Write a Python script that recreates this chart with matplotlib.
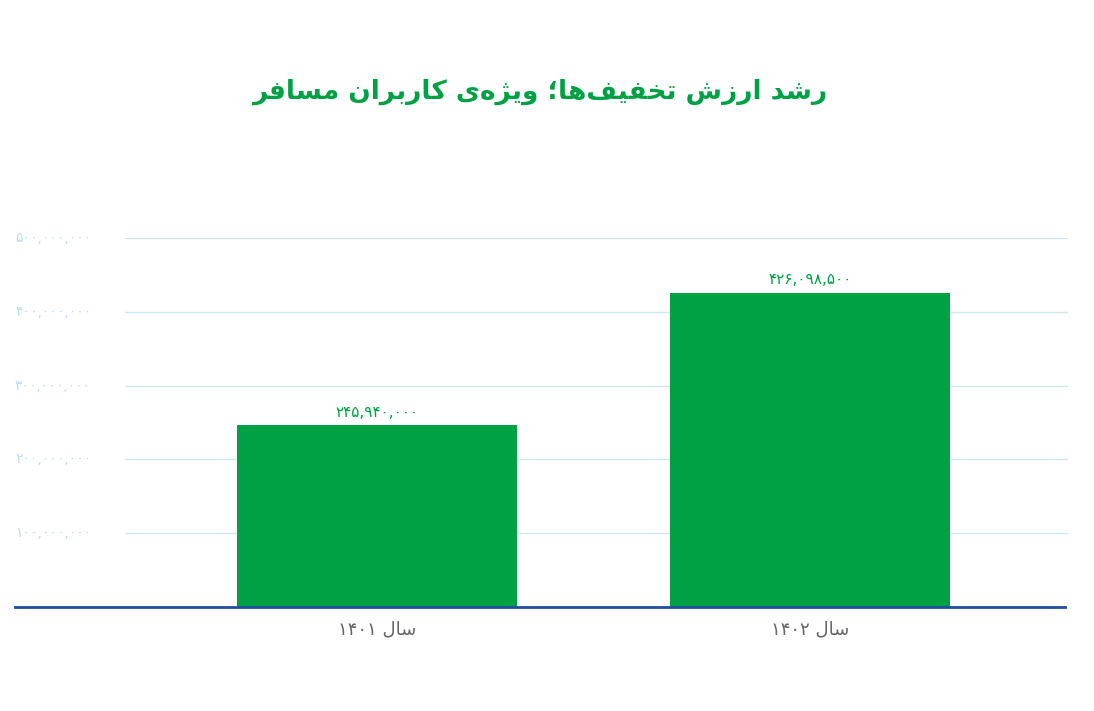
import matplotlib
matplotlib.use('Agg')
import matplotlib.pyplot as plt
from matplotlib.lines import Line2D

# simple Persian shaping (presentation forms, visual order)
FORMS = {
    'ا': ('\uFE8D', '\uFE8E', None, None),
    'ب': ('\uFE8F', '\uFE90', '\uFE91', '\uFE92'),
    'ت': ('\uFE95', '\uFE96', '\uFE97', '\uFE98'),
    'خ': ('\uFEA5', '\uFEA6', '\uFEA7', '\uFEA8'),
    'د': ('\uFEA9', '\uFEAA', None, None),
    'ر': ('\uFEAD', '\uFEAE', None, None),
    'ز': ('\uFEAF', '\uFEB0', None, None),
    'ژ': ('\uFB8A', '\uFB8B', None, None),
    'س': ('\uFEB1', '\uFEB2', '\uFEB3', '\uFEB4'),
    'ش': ('\uFEB5', '\uFEB6', '\uFEB7', '\uFEB8'),
    'ف': ('\uFED1', '\uFED2', '\uFED3', '\uFED4'),
    'ک': ('\uFB8E', '\uFB8F', '\uFB90', '\uFB91'),
    'ل': ('\uFEDD', '\uFEDE', '\uFEDF', '\uFEE0'),
    'م': ('\uFEE1', '\uFEE2', '\uFEE3', '\uFEE4'),
    'ن': ('\uFEE5', '\uFEE6', '\uFEE7', '\uFEE8'),
    'ه': ('\uFEE9', '\uFEEA', '\uFEEB', '\uFEEC'),
    'و': ('\uFEED', '\uFEEE', None, None),
    'ی': ('\uFBFC', '\uFBFD', '\uFBFE', '\uFBFF'),
}
DIGITS = '۰۱۲۳۴۵۶۷۸۹0123456789,'


def shape(text):
    out = []
    for i, ch in enumerate(text):
        if ch == '\u200c':
            continue
        if ch not in FORMS:
            out.append(ch)
            continue
        prev = text[i - 1] if i > 0 else ''
        nxt = text[i + 1] if i + 1 < len(text) else ''
        join_prev = prev in FORMS and FORMS[prev][2] is not None
        join_next = nxt in FORMS and FORMS[ch][2] is not None
        iso, fin, ini, med = FORMS[ch]
        if join_prev and join_next:
            out.append(med)
        elif join_prev:
            out.append(fin)
        elif join_next:
            out.append(ini)
        else:
            out.append(iso)
    # visual order: reverse, keeping digit runs LTR
    runs, cur = [], ''
    for ch in out:
        if cur and ((ch in DIGITS) != (cur[-1] in DIGITS)):
            runs.append(cur)
            cur = ''
        cur += ch
    if cur:
        runs.append(cur)
    return ''.join(r if r[0] in DIGITS else r[::-1] for r in reversed(runs))


def fa_num(n):
    s = f'{n:,}'
    return s.translate(str.maketrans('0123456789', '۰۱۲۳۴۵۶۷۸۹'))


title = 'رشد ارزش تخفیف‌ها؛ ویژه‌ی کاربران مسافر'
categories = ['سال ۱۴۰۱', 'سال ۱۴۰۲']
values = [245940000, 426098500]
yticks = [100000000, 200000000, 300000000, 400000000, 500000000]

green = '#00a144'
plt.rcParams['font.family'] = ['DejaVu Sans']

W, H = 1094, 711
fig = plt.figure(figsize=(W / 100, H / 100), dpi=100)
ax = fig.add_axes([125 / W, (H - 607) / H, 943 / W, (607 - 238) / H])

x = range(len(values))
ax.bar(x, values, width=0.647, color=green, zorder=3)
ax.set_ylim(0, 500000000)
ax.set_xlim(-0.582, 1.596)
for t in yticks:
    ax.axhline(t, color='#cde8f5', lw=1, zorder=1)
    fig.text(15 / W, ax.transData.transform((0, t))[1] / H, fa_num(t),
             ha='left', va='center', fontsize=10, color='#b9def2')
for i, v in enumerate(values):
    ax.text(i, v + 7000000, fa_num(v), ha='center', va='bottom', fontsize=11, color=green)
for i, c in enumerate(categories):
    ax.text(i, -30000000, shape(c), ha='center', va='center', fontsize=13, color='#666666')
for s in ax.spines.values():
    s.set_visible(False)
ax.set_xticks([])
ax.set_yticks([])

fig.add_artist(Line2D([15 / W, 1065 / W], [(H - 607) / H] * 2, color='#1f4e9c', lw=2))
fig.text(540 / W, (H - 92) / H, shape(title), ha='center', va='center',
         fontsize=19, fontweight='bold', color=green)

fig.savefig('out.png', dpi=100)
